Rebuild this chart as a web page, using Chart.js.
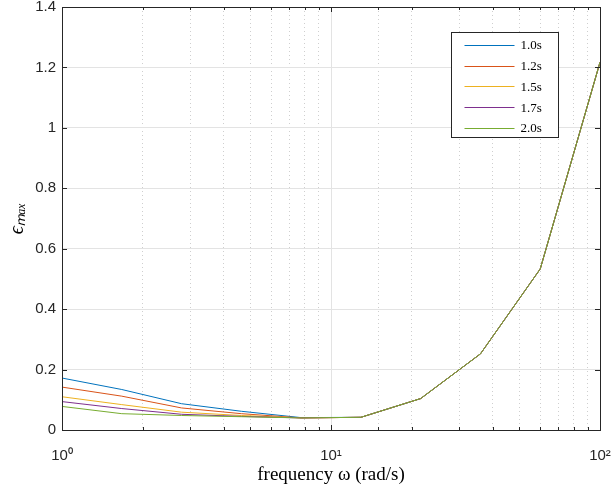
<!DOCTYPE html>
<html>
<head>
<meta charset="utf-8">
<script src="https://cdn.jsdelivr.net/npm/chart.js@4.4.1/dist/chart.umd.min.js"></script>
<style>
  html, body { margin: 0; padding: 0; background: #fff; }
  #wrap { width: 612px; height: 496px; }
</style>
</head>
<body>
<div id="wrap"><canvas id="chart" width="612" height="496"></canvas></div>
<script>
// frequency samples (rad/s), log-spaced 10^0 .. 10^2
const frequency = [1, 1.668, 2.783, 4.642, 7.743, 12.92, 21.54, 35.94, 59.95, 100]

const seriesLabels = ['1.0s', '1.2s', '1.5s', '1.7s', '2.0s']
const eps_1_0 = [0.172, 0.134, 0.087, 0.062, 0.041, 0.042, 0.104, 0.252, 0.533, 1.217]
const eps_1_2 = [0.142, 0.112, 0.073, 0.054, 0.040, 0.042, 0.104, 0.252, 0.533, 1.217]
const eps_1_5 = [0.110, 0.084, 0.059, 0.048, 0.040, 0.042, 0.104, 0.252, 0.533, 1.217]
const eps_1_7 = [0.094, 0.071, 0.052, 0.045, 0.040, 0.042, 0.104, 0.252, 0.533, 1.217]
const eps_2_0 = [0.078, 0.054, 0.048, 0.044, 0.040, 0.042, 0.104, 0.252, 0.533, 1.217]

const xTickLabels = { 1: '10\u2070', 10: '10\u00b9', 100: '10\u00b2' }
const colors = ['#0072BD', '#D95319', '#EDB120', '#7E2F8E', '#77AC30']

const allSeries = [eps_1_0, eps_1_2, eps_1_5, eps_1_7, eps_2_0]
const isMajor = (v) => v === 1 || v === 10 || v === 100

// box, inward ticks and the legend drawn MATLAB style
const matlabAxes = {
  id: 'matlabAxes',
  afterDraw(chart) {
    const { ctx, chartArea: a, scales } = chart
    ctx.save()
    ctx.strokeStyle = '#262626'
    ctx.lineWidth = 1
    ctx.beginPath()
    scales.y.ticks.forEach((t) => {
      const py = Math.round(scales.y.getPixelForValue(t.value)) + 0.5
      ctx.moveTo(a.left, py); ctx.lineTo(a.left + 5, py)
      ctx.moveTo(a.right, py); ctx.lineTo(a.right - 5, py)
    })
    scales.x.ticks.forEach((t) => {
      const px = Math.round(scales.x.getPixelForValue(t.value)) + 0.5
      const len = isMajor(t.value) ? 5 : 3
      ctx.moveTo(px, a.bottom); ctx.lineTo(px, a.bottom - len)
      ctx.moveTo(px, a.top); ctx.lineTo(px, a.top + len)
    })
    ctx.stroke()
    ctx.strokeRect(Math.round(a.left) + 0.5, Math.round(a.top) + 0.5,
      Math.round(a.right - a.left), Math.round(a.bottom - a.top))

    // legend
    const lx = Math.round(a.right) - 148.5
    const ly = Math.round(a.top) + 25.5
    const lw = 107, lh = 105
    ctx.fillStyle = '#fff'
    ctx.fillRect(lx, ly, lw, lh)
    ctx.strokeRect(lx, ly, lw, lh)
    ctx.font = '13px "Liberation Serif", "Times New Roman", serif'
    ctx.textBaseline = 'middle'
    chart.data.datasets.forEach((ds, i) => {
      const ry = ly + 12.5 + i * 20.7
      ctx.strokeStyle = ds.borderColor
      ctx.beginPath()
      ctx.moveTo(lx + 13, Math.round(ry) + 0.5)
      ctx.lineTo(lx + 63, Math.round(ry) + 0.5)
      ctx.stroke()
      ctx.fillStyle = '#000'
      ctx.fillText(ds.label, lx + 69, ry + 1)
    })
    ctx.restore()
  }
}

const ctx = document.getElementById('chart').getContext('2d')
const chart = new Chart(ctx, {
  type: 'line',
  data: {
    datasets: allSeries.map((vals, i) => ({
      label: seriesLabels[i],
      data: vals.map((v, j) => ({ x: frequency[j], y: v })),
      borderColor: colors[i],
      borderWidth: 1,
      pointRadius: 0,
      tension: 0,
      fill: false,
      order: allSeries.length - i, // later series on top, like MATLAB
    })),
  },
  options: {
    responsive: false,
    animation: false,
    layout: { padding: { top: 7, right: 12, left: 0, bottom: 0 } },
    plugins: {
      legend: { display: false },
      tooltip: { enabled: false },
    },
    scales: {
      x: {
        type: 'logarithmic',
        min: 1,
        max: 100,
        afterFit: (s) => { s.height = 66; s.paddingLeft = 0; s.paddingRight = 0 },
        title: {
          display: true,
          text: 'frequency \u03c9 (rad/s)',
          color: '#000',
          font: { family: '"Liberation Serif", "Times New Roman", serif', size: 19 },
          padding: { top: 10, bottom: 10 },
        },
        ticks: {
          autoSkip: false,
          maxRotation: 0,
          color: '#262626',
          padding: 17,
          font: { family: '"Liberation Sans", Arial, sans-serif', size: 15 },
          callback: (v) => xTickLabels[v] || '',
        },
        grid: {
          drawTicks: false,
          color: (c) => (c.tick && isMajor(c.tick.value) ? '#e3e3e3' : '#cfcfcf'),
          lineWidth: 1,
        },
        border: {
          display: false,
          dash: (c) => (c.tick && isMajor(c.tick.value) ? [] : [1, 3]),
        },
      },
      y: {
        min: 0,
        max: 1.4,
        afterFit: (s) => { s.width = 62; s.paddingTop = 0; s.paddingBottom = 0 },
        title: {
          display: true,
          text: '\u03f5\u2098\u2090\u2093',
          color: '#000',
          font: { family: '"Liberation Serif", "Times New Roman", serif', size: 20, style: 'italic' },
          padding: { top: 6, bottom: 6 },
        },
        ticks: {
          stepSize: 0.2,
          color: '#262626',
          padding: 6,
          font: { family: '"Liberation Sans", Arial, sans-serif', size: 15 },
          callback: (v) => String(Number(v.toFixed(1))),
        },
        grid: {
          drawTicks: false,
          color: '#e3e3e3',
          lineWidth: 1,
        },
        border: { display: false },
      },
    },
  },
  plugins: [matlabAxes],
})
</script>
</body>
</html>
